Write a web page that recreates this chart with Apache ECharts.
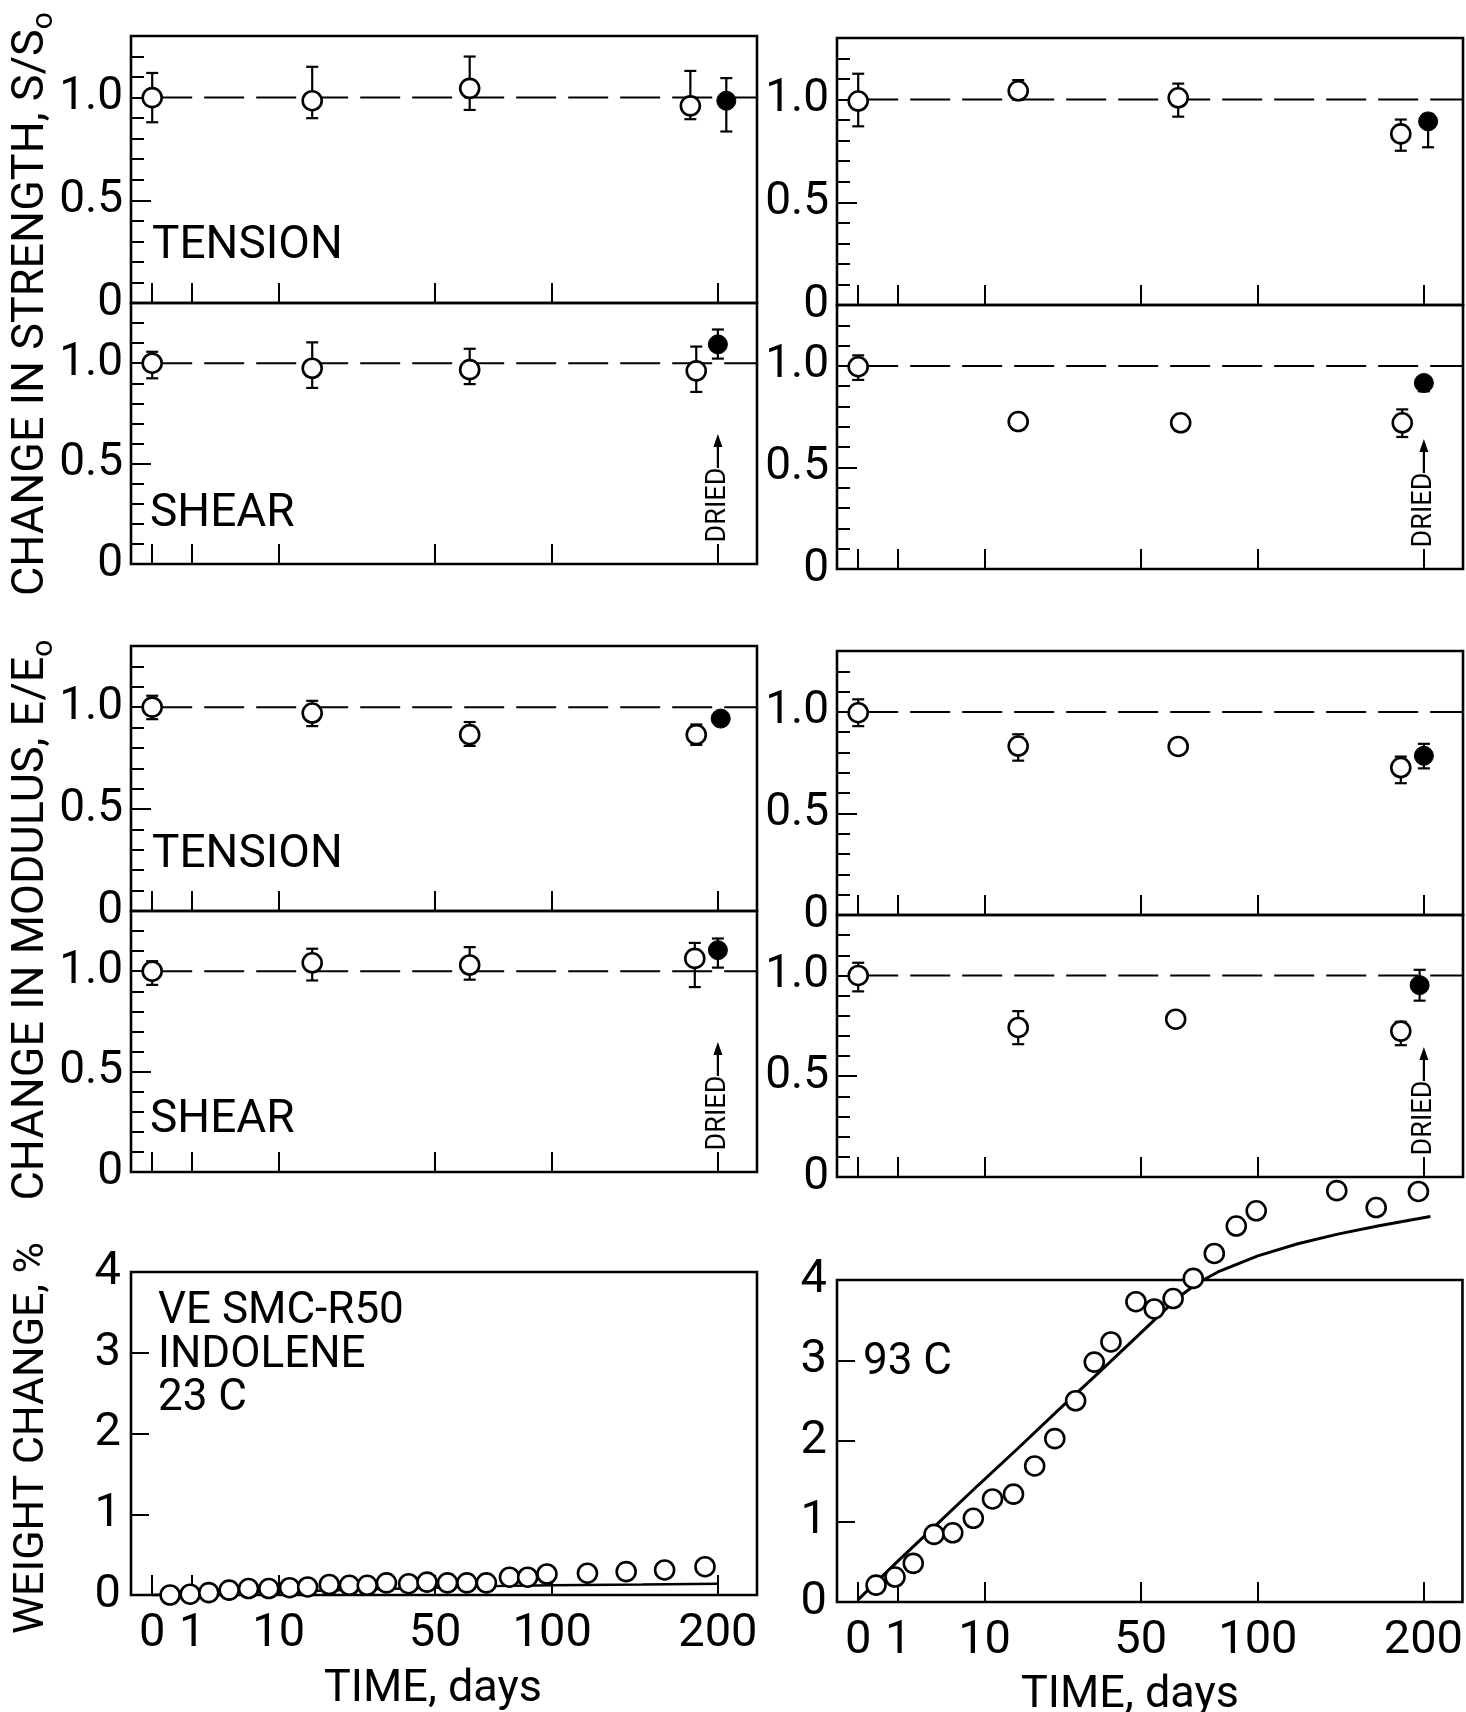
<!DOCTYPE html>
<html>
<head>
<meta charset="utf-8">
<title>VE SMC-R50 in Indolene</title>
<script src="https://cdn.jsdelivr.net/npm/echarts@6.0.0/dist/echarts.min.js"></script>
<style>
html,body{margin:0;padding:0;background:#fff;}
#chart{width:1466px;height:1712px;}
</style>
</head>
<body>
<div id="chart"></div>
<script>
// ---------------- DATA (time in days) ----------------
const xTickDays   = [0, 1, 10, 50, 100, 200];
const xTickLabels = ['0', '1', '10', '50', '100', '200'];
const ratioTicks  = [0, 0.5, 1.0];
const ratioLabels = ['0', '0.5', '1.0'];
const weightTicks = [0, 1, 2, 3, 4];
const refLevel    = 1.0;

// strength, tension, 23 C
const strTenL_days = [0, 16, 63, 181];
const strTenL_val  = [1.00, 0.985, 1.045, 0.96];
const strTenL_hi   = [1.12, 1.15, 1.20, 1.13];
const strTenL_lo   = [0.88, 0.90, 0.94, 0.895];
const strTenL_dried = [206, 0.985, 1.095, 0.835];   // day, value, hi, lo
// strength, shear, 23 C
const strShrL_days = [0, 16, 63, 185];
const strShrL_val  = [1.00, 0.975, 0.968, 0.962];
const strShrL_hi   = [1.057, 1.104, 1.072, 1.083];
const strShrL_lo   = [0.925, 0.877, 0.896, 0.857];
const strShrL_dried = [200, 1.094, 1.168, 1.023];
// strength, tension, 93 C
const strTenR_days = [0, 16, 64, 184];
const strTenR_val  = [0.993, 1.043, 1.009, 0.833];
const strTenR_hi   = [1.126, 1.095, 1.078, 0.903];
const strTenR_lo   = [0.87, 1.0, 0.917, 0.751];
const strTenR_dried = [203, 0.894, 0.93, 0.768];
// strength, shear, 93 C
const strShrR_days = [0, 16, 65, 185];
const strShrR_val  = [0.996, 0.726, 0.72, 0.72];
const strShrR_hi   = [1.052, 0.76, 0.76, 0.786];
const strShrR_lo   = [0.931, 0.685, 0.68, 0.65];
const strShrR_dried = [200, 0.916, 0.94, 0.875];
// modulus, tension, 23 C
const modTenL_days = [0, 16, 63, 185];
const modTenL_val  = [1.0, 0.971, 0.865, 0.865];
const modTenL_hi   = [1.056, 1.031, 0.927, 0.915];
const modTenL_lo   = [0.941, 0.907, 0.81, 0.815];
const modTenL_dried = [202, 0.944, 0.965, 0.91];
// modulus, shear, 23 C
const modShrL_days = [0, 16, 63, 184];
const modShrL_val  = [1.0, 1.042, 1.031, 1.064];
const modShrL_hi   = [1.05, 1.112, 1.12, 1.141];
const modShrL_lo   = [0.932, 0.954, 0.958, 0.921];
const modShrL_dried = [200, 1.105, 1.163, 1.018];
// modulus, tension, 93 C
const modTenR_days = [0, 16, 64, 184];
const modTenR_val  = [0.996, 0.832, 0.83, 0.726];
const modTenR_hi   = [1.062, 0.89, null, 0.78];
const modTenR_lo   = [0.93, 0.76, null, 0.649];
const modTenR_dried = [200, 0.784, 0.843, 0.722];
// modulus, shear, 93 C
const modShrR_days = [0, 16, 63, 184];
const modShrR_val  = [1.0, 0.742, 0.783, 0.724];
const modShrR_hi   = [1.063, 0.823, null, 0.77];
const modShrR_lo   = [0.921, 0.659, null, 0.654];
const modShrR_dried = [197, 0.952, 1.028, 0.875];

// weight change, 23 C
const wL_days = [0.2, 0.9, 2, 3.7, 5.8, 8.5, 11.8, 15.1, 19.6, 24.3, 28.9, 34.3, 41.1, 47.2, 54.5, 61.9, 69.8, 79.8, 88.1, 97.4, 118.4, 140.4, 164.1, 191];
const wL_val  = [0.0, 0.01, 0.03, 0.06, 0.08, 0.08, 0.09, 0.10, 0.13, 0.12, 0.12, 0.15, 0.14, 0.16, 0.15, 0.15, 0.15, 0.22, 0.22, 0.26, 0.27, 0.29, 0.31, 0.35];
const wL_fitDays = [0, 2, 10, 30, 50, 72, 100, 150, 200];
const wL_fitVal  = [0, 0.02, 0.04, 0.07, 0.09, 0.11, 0.12, 0.13, 0.14];
// weight change, 93 C
const wR_days = [0.2, 0.85, 1.9, 3.6, 5.6, 8.3, 11.3, 15.1, 19.5, 24.2, 29.6, 34.9, 40, 48.3, 54.9, 62.1, 70.3, 79.4, 89.5, 99.2, 143.4, 168, 196.5];
const wR_val  = [0.21, 0.31, 0.48, 0.84, 0.86, 1.04, 1.28, 1.34, 1.69, 2.03, 2.50, 2.98, 3.23, 3.73, 3.64, 3.77, 4.02, 4.33, 4.67, 4.86, 5.11, 4.90, 5.10];
const wR_fitDays = [0, 1, 4, 9, 16, 25, 36, 49, 64, 72, 81, 100, 121, 144, 169, 196, 205];
const wR_fitVal  = [0.03, 0.51, 0.98, 1.45, 1.91, 2.38, 2.84, 3.31, 3.78, 3.96, 4.10, 4.30, 4.45, 4.57, 4.67, 4.76, 4.79];

// ---------------- LAYOUT / STYLE ----------------
const DIG  = "Roboto,'Liberation Sans',sans-serif";
const WORD = "Roboto,'Liberation Sans',sans-serif";
const X = d => Math.sqrt(d);          // the time axis is drawn on a square-root scale
const XMIN = -0.53, XMAX = 15.12;
const LC = [131, 626], RC = [837, 626];
const SYM = 19, SYMW = 2.6;

function grp(days, val, hi, lo, dried) { return {days, val, hi, lo, dried}; }
const panels = [
  {g:[LC[0], 36, LC[1], 267],  kind:'ratio', d:grp(strTenL_days, strTenL_val, strTenL_hi, strTenL_lo, strTenL_dried)},
  {g:[LC[0], 303, LC[1], 261], kind:'ratio', d:grp(strShrL_days, strShrL_val, strShrL_hi, strShrL_lo, strShrL_dried), dried:true},
  {g:[RC[0], 38, RC[1], 267],  kind:'ratio', d:grp(strTenR_days, strTenR_val, strTenR_hi, strTenR_lo, strTenR_dried)},
  {g:[RC[0], 305, RC[1], 264], kind:'ratio', d:grp(strShrR_days, strShrR_val, strShrR_hi, strShrR_lo, strShrR_dried), dried:true},
  {g:[LC[0], 646, LC[1], 265], kind:'ratio', d:grp(modTenL_days, modTenL_val, modTenL_hi, modTenL_lo, modTenL_dried)},
  {g:[LC[0], 911, LC[1], 261], kind:'ratio', d:grp(modShrL_days, modShrL_val, modShrL_hi, modShrL_lo, modShrL_dried), dried:true},
  {g:[RC[0], 651, RC[1], 264], kind:'ratio', d:grp(modTenR_days, modTenR_val, modTenR_hi, modTenR_lo, modTenR_dried)},
  {g:[RC[0], 915, RC[1], 262], kind:'ratio', d:grp(modShrR_days, modShrR_val, modShrR_hi, modShrR_lo, modShrR_dried), dried:true},
  {g:[LC[0], 1272, LC[1], 323], kind:'weight', days:wL_days, val:wL_val, fd:wL_fitDays, fv:wL_fitVal, lw:2.4},
  {g:[RC[0], 1280, RC[1], 322], kind:'weight', days:wR_days, val:wR_val, fd:wR_fitDays, fv:wR_fitVal, lw:3}
];

const xTickPos = xTickDays.map(X);
function xLabel(v) {
  for (let i = 0; i < xTickPos.length; i++) if (Math.abs(xTickPos[i] - v) < 1e-6) return xTickLabels[i];
  return '';
}
function rLabel(v) {
  for (let i = 0; i < ratioTicks.length; i++) if (Math.abs(ratioTicks[i] - v) < 1e-6) return ratioLabels[i];
  return '';
}

const grids = [], xAxes = [], yAxes = [], series = [];
const errRender = (params, api) => {
  const x = api.value(0), lo = api.value(1), hi = api.value(2);
  const a = api.coord([x, lo]), b = api.coord([x, hi]);
  const w = 6, st = {stroke:'#000', lineWidth:2.2};
  return {type:'group', children:[
    {type:'line', shape:{x1:a[0], y1:a[1], x2:b[0], y2:b[1]}, style:st},
    {type:'line', shape:{x1:b[0]-w, y1:b[1], x2:b[0]+w, y2:b[1]}, style:st},
    {type:'line', shape:{x1:a[0]-w, y1:a[1], x2:a[0]+w, y2:a[1]}, style:st}
  ]};
};

panels.forEach((p, i) => {
  grids.push({left:p.g[0], top:p.g[1], width:p.g[2], height:p.g[3], show:true,
    borderColor:'#000', borderWidth:2.6, backgroundColor:'rgba(0,0,0,0)'});
  xAxes.push({gridIndex:i, type:'value', min:XMIN, max:XMAX,
    axisLine:{show:false, onZero:false}, splitLine:{show:false},
    axisTick:{show:true, inside:true, length:20, customValues:xTickPos, lineStyle:{color:'#000', width:2}},
    axisLabel:{show:p.kind === 'weight', customValues:xTickPos, formatter:xLabel,
      fontFamily:DIG, fontSize:47, color:'#000', margin:16}});
  let yi;
  if (p.kind === 'ratio') {
    yAxes.push({gridIndex:i, type:'value', min:0, max:1.3, interval:0.1, position:'left',
      axisLine:{show:false, onZero:false}, splitLine:{show:false}, axisLabel:{show:false},
      axisTick:{show:true, inside:true, length:13, lineStyle:{color:'#000', width:2}}});
    yi = yAxes.length;
    yAxes.push({gridIndex:i, type:'value', min:0, max:1.3, position:'left',
      axisLine:{show:false, onZero:false}, splitLine:{show:false},
      axisTick:{show:true, inside:true, length:20, customValues:ratioTicks, lineStyle:{color:'#000', width:2}},
      axisLabel:{customValues:ratioTicks, formatter:rLabel, fontFamily:DIG, fontSize:46, color:'#000', margin:8}});
    const d = p.d;
    series.push({type:'line', xAxisIndex:i, yAxisIndex:yi, silent:true, symbol:'none', z:1,
      data:[[X(0), refLevel], [XMAX, refLevel]],
      lineStyle:{color:'#000', width:2, type:[40, 12]}});
    const eb = [];
    d.days.forEach((t, k) => { if (d.hi[k] != null) eb.push([X(t), d.lo[k], d.hi[k]]); });
    eb.push([X(d.dried[0]), d.dried[3], d.dried[2]]);
    series.push({type:'custom', xAxisIndex:i, yAxisIndex:yi, silent:true, z:2,
      renderItem:errRender, encode:{x:0, y:[1, 2]}, data:eb});
    series.push({type:'scatter', xAxisIndex:i, yAxisIndex:yi, silent:true, z:3,
      symbol:'circle', symbolSize:SYM, data:d.days.map((t, k) => [X(t), d.val[k]]),
      itemStyle:{color:'#fff', borderColor:'#000', borderWidth:SYMW, opacity:1}});
    series.push({type:'scatter', xAxisIndex:i, yAxisIndex:yi, silent:true, z:3,
      symbol:'circle', symbolSize:SYM, data:[[X(d.dried[0]), d.dried[1]]],
      itemStyle:{color:'#000', borderColor:'#000', borderWidth:1, opacity:1}});
  } else {
    yi = yAxes.length;
    yAxes.push({gridIndex:i, type:'value', min:0, max:4, interval:1, position:'left',
      axisLine:{show:false, onZero:false}, splitLine:{show:false},
      axisTick:{show:true, inside:true, length:18, lineStyle:{color:'#000', width:2}},
      axisLabel:{fontFamily:DIG, fontSize:47, color:'#000', margin:10}});
    series.push({type:'line', xAxisIndex:i, yAxisIndex:yi, silent:true, symbol:'none', z:2,
      clip:false, data:p.fd.map((t, k) => [X(t), p.fv[k]]),
      lineStyle:{color:'#000', width:p.lw}});
    series.push({type:'scatter', xAxisIndex:i, yAxisIndex:yi, silent:true, z:3, clip:false,
      symbol:'circle', symbolSize:SYM, data:p.days.map((t, k) => [X(t), p.val[k]]),
      itemStyle:{color:'#fff', borderColor:'#000', borderWidth:SYMW, opacity:1}});
  }
});

const chart = echarts.init(document.getElementById('chart'), null, {renderer:'canvas'});
chart.setOption({
  animation:false,
  backgroundColor:'#fff',
  grid:grids, xAxis:xAxes, yAxis:yAxes, series:series
});

// ---------------- TEXT ANNOTATIONS ----------------
const g = [];
function txt(s, x, y, size, align) {
  g.push({type:'text', x, y, z:10, silent:true,
    style:{text:s, fontFamily:WORD, fontSize:size, fill:'#000', align:align || 'left', verticalAlign:'middle'}});
}
function vTitle(main, sub, y, size) {
  g.push({type:'text', x:32, y, rotation:Math.PI / 2, z:10, silent:true,
    style:{text:'{m|' + main + '}' + (sub ? '{s|' + sub + '}' : ''), align:'center', verticalAlign:'middle', fill:'#000',
      rich:{m:{fontFamily:WORD, fontSize:size, lineHeight:54, verticalAlign:'middle', fill:'#000'},
            s:{fontFamily:WORD, fontSize:30, lineHeight:22, verticalAlign:'bottom', fill:'#000'}}}});
}
vTitle('CHANGE IN STRENGTH, S/S', 'o', 304, 45);
vTitle('CHANGE IN MODULUS, E/E', 'o', 920, 45);
vTitle('WEIGHT CHANGE, %', '', 1438, 43);

txt('TENSION', 152, 246, 46);
txt('SHEAR', 150, 514, 46);
txt('TENSION', 152, 855, 46);
txt('SHEAR', 150, 1120, 46);
txt('VE SMC-R50', 158, 1312, 44);
txt('INDOLENE', 158, 1356, 44);
txt('23 C', 158, 1399, 44);
txt('93 C', 863, 1363, 44);
txt('TIME, days', 433, 1690, 45, 'center');
txt('TIME, days', 1130, 1696, 45, 'center');

panels.forEach((p, i) => {
  if (!p.dried) return;
  const px = chart.convertToPixel({xAxisIndex:i}, X(200));
  const bot = p.g[1] + p.g[3];
  g.push({type:'text', x:px, y:bot - 59, rotation:Math.PI / 2, z:10, silent:true,
    style:{text:'DRIED', fontFamily:WORD, fontSize:27, fill:'#000', align:'center', verticalAlign:'middle'}});
  g.push({type:'line', z:10, silent:true, shape:{x1:px, y1:bot - 96, x2:px, y2:bot - 122},
    style:{stroke:'#000', lineWidth:2.2}});
  g.push({type:'polygon', z:10, silent:true,
    shape:{points:[[px, bot - 130], [px - 4.5, bot - 117], [px + 4.5, bot - 117]]},
    style:{fill:'#000'}});
});

chart.setOption({graphic:g});
</script>
</body>
</html>
